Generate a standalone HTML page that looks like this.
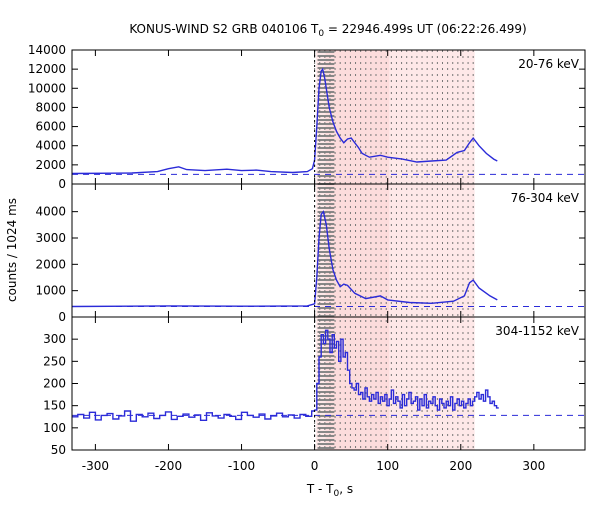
<!DOCTYPE html>
<html><head><meta charset="utf-8"><style>
body{margin:0;background:#fff}
svg text{font-family:"DejaVu Sans","Liberation Sans",sans-serif;font-size:12px;fill:#000}
</style></head><body>
<svg id="c" width="600" height="500"></svg>
<script>
const xTicks=[-300,-200,-100,0,100,200,300];
const p1Ticks=[0,2000,4000,6000,8000,10000,12000,14000];
const p2Ticks=[0,1000,2000,3000,4000];
const p3Ticks=[50,100,150,200,250,300];
const bandLabels=["20-76 keV","76-304 keV","304-1152 keV"];
const p1T=[-332,-250,-215,-200,-186,-175,-150,-120,-100,-80,-60,-30,-10,-3,0,3,6,9,11,14,17,20,25,30,35,40,45,50,55,60,65,75,90,100,120,140,160,180,195,205,212,217,225,235,245,250];
const p1V=[1100,1150,1300,1600,1800,1500,1400,1550,1400,1450,1300,1200,1300,1600,2500,6000,10000,11800,12000,11000,9500,8000,6500,5500,4800,4300,4700,4800,4300,3800,3200,2800,3000,2800,2600,2300,2400,2500,3300,3500,4300,4800,4000,3200,2600,2400];
const p2T=[-332,-200,-100,-10,0,3,6,9,12,16,20,25,30,35,40,45,55,70,90,100,130,160,190,205,212,217,225,240,250];
const p2V=[400,420,410,420,500,1500,3000,3900,4000,3500,2600,1800,1400,1150,1250,1200,900,700,800,650,550,520,600,800,1300,1400,1100,800,650];
const p3Pre=[125,130,122,135,118,128,132,120,127,138,115,130,125,133,121,128,136,119,126,131,124,129,117,134,127,122,130,126,119,135,128,124,131,120,127,133,125,129,122,130,126,138];
const p3Post=[140,200,260,310,290,320,300,270,310,280,295,250,300,260,270,230,200,190,185,200,175,180,165,190,170,160,175,165,180,155,170,160,175,150,165,185,155,170,160,145,175,150,165,180,155,160,170,140,165,150,175,145,160,155,170,150,140,165,155,145,160,150,170,140,155,165,150,160,145,155,165,150,160,170,180,165,175,160,185,170,155,160,150,145];
const bkg=[1000,400,128];

const NS="http://www.w3.org/2000/svg";
const svg=document.getElementById('c');
function el(t,a,p){const e=document.createElementNS(NS,t);for(const k in a)e.setAttribute(k,a[k]);(p||svg).appendChild(e);return e;}
const X0=72,X1=585,XMIN=-332,XMAX=370;
const xs=v=>X0+(v-XMIN)/(XMAX-XMIN)*(X1-X0);
const panels=[{top:50,bot:184,min:0,max:14000,ticks:p1Ticks},{top:184,bot:317,min:0,max:5050,ticks:p2Ticks},{top:317,bot:450,min:50,max:350,ticks:p3Ticks}];
panels.forEach(p=>p.ys=v=>p.bot-(v-p.min)/(p.max-p.min)*(p.bot-p.top));

let r=el('rect',{x:xs(2),y:50,width:xs(219)-xs(2),height:400,fill:'#fee8e8'});

r=el('rect',{x:xs(15),y:50,width:xs(102)-xs(15),height:400,fill:'#fcdcdc'});

for(let y=52;y<450;y+=4){el('line',{x1:xs(4),x2:xs(27),y1:y,y2:y,stroke:'#888','stroke-width':2});}
for(let t=0;t<=218;t+=7){el('line',{x1:xs(t),x2:xs(t),y1:50,y2:450,stroke:'#777','stroke-width':1,'stroke-dasharray':'2,4'});}

function stepPath(ts,vs,p){let d='';for(let i=0;i<vs.length;i++){const x1=xs(ts[i]),x2=xs(ts[i+1]!==undefined?ts[i+1]:ts[i]+3);const y=p.ys(vs[i]);d+=(i?'L':'M')+x1.toFixed(1)+','+y.toFixed(1)+'L'+x2.toFixed(1)+','+y.toFixed(1);}return d;}
function linePath(ts,vs,p){return ts.map((t,i)=>(i?'L':'M')+xs(t).toFixed(1)+','+p.ys(vs[i]).toFixed(1)).join('');}

panels.forEach((p,i)=>{
  const b=el('line',{x1:X0,x2:X1,y1:p.ys(bkg[i]),y2:p.ys(bkg[i]),stroke:'#2b2bd8','stroke-dasharray':'6,5'});
  
  let d;
  if(i===0)d=linePath(p1T,p1V,p);
  else if(i===1)d=linePath(p2T,p2V,p);
  else{const tp=p3Pre.map((v,k)=>-332+k*8);const tq=p3Post.map((v,k)=>k*3);
    d=stepPath(tp,p3Pre,p)+stepPath(tq,p3Post,p).replace('M','L');}
  const s=el('path',{d:d,fill:'none',stroke:'#2b2bd8','stroke-width':1.4});
  
  const fr=el('rect',{x:X0,y:p.top,width:X1-X0,height:p.bot-p.top,fill:'none',stroke:'#000'});
  
  p.ticks.forEach(v=>{const y=p.ys(v);
    el('line',{x1:X0,x2:X0+6,y1:y,y2:y,stroke:'#000'});el('line',{x1:X1-6,x2:X1,y1:y,y2:y,stroke:'#000'});
    const t=el('text',{x:X0-6,y:y+4,'text-anchor':'end'});t.textContent=v;
    });
  xTicks.forEach(v=>{const x=xs(v);el('line',{x1:x,x2:x,y1:p.bot-6,y2:p.bot,stroke:'#000'});el('line',{x1:x,x2:x,y1:p.top,y2:p.top+6,stroke:'#000'});});
  const lb=el('text',{x:579,y:p.top+18,'text-anchor':'end'});lb.textContent=bandLabels[i];
  
});
el('line',{x1:xs(0),x2:xs(0),y1:50,y2:450,stroke:'#000','stroke-dasharray':'2,3'});
xTicks.forEach(v=>{const t=el('text',{x:xs(v),y:470,'text-anchor':'middle'});t.textContent=v;
  });
let t=el('text',{x:330,y:493,'text-anchor':'middle'});t.innerHTML='T - T<tspan font-size="9" dy="3">0</tspan><tspan dy="-3">, s</tspan>';

t=el('text',{x:16,y:250,'text-anchor':'middle',transform:'rotate(-90 16 250)'});t.textContent='counts / 1024 ms';

t=el('text',{x:328,y:33,'text-anchor':'middle'});t.innerHTML='KONUS-WIND S2 GRB 040106 T<tspan font-size="9" dy="3">0</tspan><tspan dy="-3"> = 22946.499s UT (06:22:26.499)</tspan>';

</script>
</body></html>
